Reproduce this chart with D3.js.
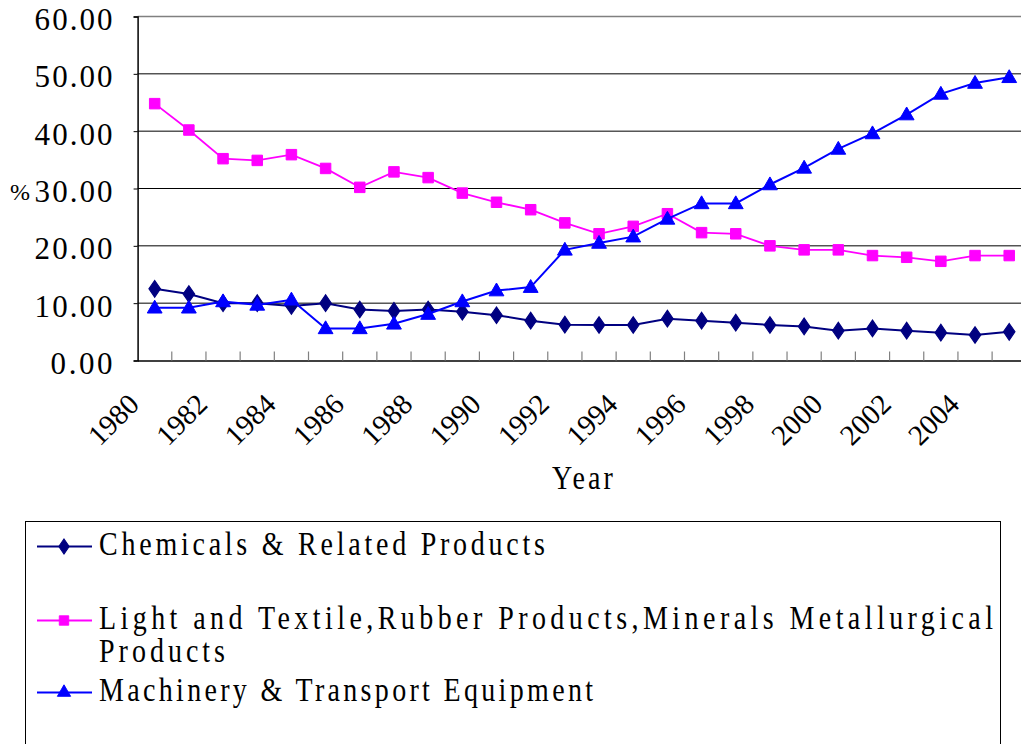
<!DOCTYPE html>
<html><head><meta charset="utf-8">
<script src="https://cdn.jsdelivr.net/npm/d3@7"></script>
<style>html,body{margin:0;padding:0;background:#fff;overflow:hidden}</style>
</head><body><svg id="c" width="1021" height="744"></svg>
<script>
const years = [1980,1981,1982,1983,1984,1985,1986,1987,1988,1989,1990,1991,1992,1993,1994,1995,1996,1997,1998,1999,2000,2001,2002,2003,2004,2005];
const xTickLabels = ["1980","1982","1984","1986","1988","1990","1992","1994","1996","1998","2000","2002","2004"];
const yTickValues = [0,10,20,30,40,50,60];
const chemicals = [12.5,11.6,10.0,10.0,9.5,10.0,8.9,8.65,8.9,8.5,7.9,6.95,6.25,6.2,6.2,7.3,6.95,6.6,6.2,5.95,5.2,5.6,5.2,4.85,4.45,5.0];
const lightTextile = [44.8,40.2,35.2,34.9,35.9,33.5,30.2,32.9,31.9,29.2,27.6,26.3,24.0,22.1,23.4,25.6,22.3,22.1,20.0,19.3,19.3,18.3,18.0,17.3,18.3,18.3];
const machinery = [9.2,9.2,10.3,9.7,10.6,5.6,5.6,6.4,8.1,10.3,12.2,12.8,19.3,20.5,21.6,24.7,27.4,27.4,30.7,33.6,36.9,39.6,42.9,46.5,48.4,49.4];
const seriesNames = [["Chemicals & Related Products"],["Light and Textile,Rubber Products,Minerals Metallurgical","Products"],["Machinery & Transport Equipment"]];
const seriesColors = ["#000080","#FF00FF","#0000FF"];
const seriesValues = [chemicals, lightTextile, machinery];
const xTitle = "Year", yTitle = "%";

const svg = d3.select("#c");
const FONT = "'Liberation Serif','DejaVu Serif',serif";
const x = d3.scaleBand().domain(years).range([137.6, 1026.3]).padding(0);
const y = d3.scaleLinear().domain([0,60]).range([360.5,16.5]);
const bw = x.bandwidth();
const x0 = x.range()[0], x1 = x.range()[1];

// gridlines
svg.append("g").selectAll("line").data(yTickValues.filter(v=>v>0)).join("line")
  .attr("x1",x0).attr("x2",x1).attr("y1",d=>y(d)).attr("y2",d=>y(d))
  .attr("stroke",d=>d===60?"#808080":"#000").attr("stroke-width",d=>d===60?1.5:1);

// y axis
const ya = svg.append("g").attr("transform",`translate(${x0},0)`)
  .call(d3.axisLeft(y).tickValues(yTickValues).tickSize(4).tickPadding(21).tickFormat(d3.format(".2f")));
ya.select(".domain").attr("stroke","#000").attr("stroke-width",1.5);
ya.selectAll(".tick line").attr("stroke","#000");
ya.selectAll(".tick text").attr("font-family",FONT).attr("font-size",31).attr("fill","#000")
  .attr("dy",13).attr("lengthAdjust","spacing")
  .each(function(d){ const t=d3.format(".2f")(d); d3.select(this).attr("textLength",t.length*16-2); });

// x axis
const xa = svg.append("g").attr("transform",`translate(0,${y(0)})`)
  .call(d3.axisBottom(x).tickSize(0).tickFormat(""));
xa.select(".domain").attr("stroke","#000").attr("stroke-width",1.5);
svg.append("g").selectAll("line").data(years.slice(1)).join("line")
  .attr("x1",d=>x(d)).attr("x2",d=>x(d)).attr("y1",y(0)).attr("y2",y(0)-9)
  .attr("stroke","#808080").attr("stroke-width",1.2);

svg.append("g").selectAll("text").data(xTickLabels).join("text")
  .attr("transform",d=>`translate(${x(+d)+bw/2-14},406) rotate(-45)`)
  .attr("text-anchor","end").attr("font-family",FONT).attr("font-size",29).attr("fill","#000")
  .text(d=>d);

svg.append("text").attr("transform",`translate(${(x0+x1)/2-30},489) scale(1,1.17)`)
  .attr("font-family",FONT).attr("font-size",28).attr("textLength",61).attr("lengthAdjust","spacing").text(xTitle);
svg.append("text").attr("x",10).attr("y",200).attr("font-family",FONT).attr("font-size",24).text(yTitle);

// symbols
const symTypes = [d3.symbolDiamond, d3.symbolSquare, d3.symbolTriangle];
const symSizes = [80, 110, 95];
function marker(g,i){
  const p = g.append("path").attr("d",d3.symbol().type(symTypes[i]).size(symSizes[i])())
    .attr("fill",seriesColors[i]).attr("stroke",seriesColors[i]).attr("stroke-width",1);
  if(i===0) p.attr("transform","scale(1.2,1)");
  return p;
}

const line = d3.line().x((d,i)=>x(years[i])+bw/2).y(d=>y(d));
seriesValues.forEach((vals,i)=>{
  const g = svg.append("g");
  g.append("path").attr("d",line(vals)).attr("fill","none").attr("stroke",seriesColors[i]).attr("stroke-width",i===1?1.8:2);
  vals.forEach((v,j)=>{
    const m = g.append("g").attr("transform",`translate(${x(years[j])+bw/2},${y(v)+(i===2?1:0)})`);
    marker(m,i);
  });
});

// legend
svg.append("rect").attr("x",25.5).attr("y",521.5).attr("width",975).attr("height",300)
  .attr("fill","none").attr("stroke","#000").attr("stroke-width",1);
const legY = [546.5, 620.5, 692.5];
seriesNames.forEach((lines,i)=>{
  const g = svg.append("g");
  g.append("line").attr("x1",37).attr("x2",92).attr("y1",legY[i]).attr("y2",legY[i])
    .attr("stroke",seriesColors[i]).attr("stroke-width",2);
  const m = g.append("g").attr("transform",`translate(64,${legY[i]}) scale(0.9)`);
  marker(m,i);
  lines.forEach((t,k)=>{
    g.append("text").attr("transform",`translate(99,${legY[i]+8+k*33.5}) scale(1,1.17)`)
      .attr("font-family",FONT).attr("font-size",28).attr("fill","#000")
      .attr("textLength",t.length*16-2).attr("lengthAdjust","spacing").text(t);
  });
});
</script></body></html>
